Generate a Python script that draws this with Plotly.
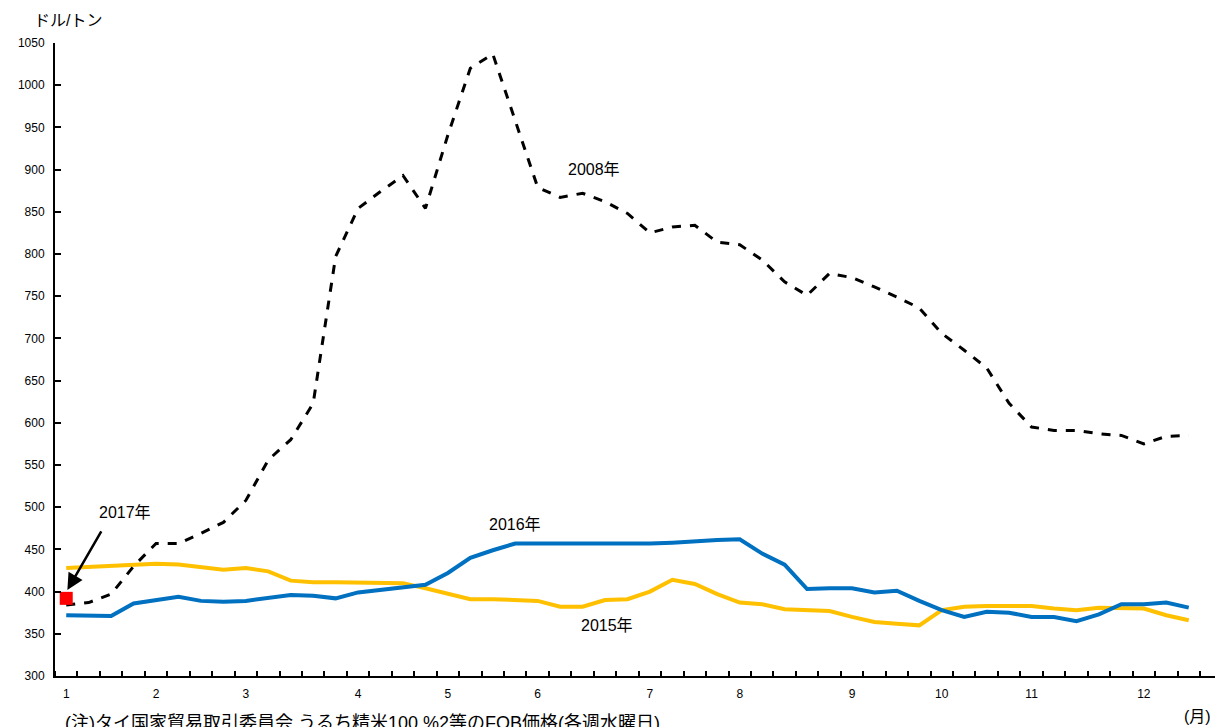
import plotly.graph_objects as go

weeks = list(range(51))
month_pos = [0, 4, 8, 13, 17, 21, 26, 30, 35, 39, 43, 48]
month_labels = ["1", "2", "3", "4", "5", "6", "7", "8", "9", "10", "11", "12"]

y2008 = [384, 387, 397, 430, 457, 457, 469, 482, 508, 556, 580, 623, 797, 854, 874, 893, 854,
         941, 1020, 1037, 958, 879, 867, 872, 862, 848, 825, 832, 834, 814, 811, 793, 767, 751,
         777, 772, 761, 749, 736, 706, 686, 665, 623, 595, 591, 591, 587, 585, 575, 584, 585]
y2016 = [372, 371, 371, 386, 390, 394, 389, 388, 389, 392, 396, 395, 392, 399, 402, 405, 408,
         422, 440, 449, 457, 457, 457, 456, 457, 457, 457, 458, 460, 461, 462, 445, 432, 403,
         404, 404, 399, 401, 389, 378, 370, 376, 375, 370, 370, 365, 373, 385, 385, 387, 381]
y2015 = [428, 429, 431, 432, 433, 432, 429, 426, 428, 424, 413, 411, 411, 411, 410, 410, 404,
         397, 391, 391, 390, 389, 382, 382, 390, 391, 400, 414, 409, 397, 387, 385, 379, 378,
         377, 370, 364, 362, 360, 378, 382, 383, 383, 383, 380, 378, 381, 380, 380, 372, 366]
x2017 = [0]
y2017 = [392]
y_ticks = list(range(300, 1051, 50))

FONT = "Liberation Sans, Arial, Noto Sans CJK JP, sans-serif"

fig = go.Figure()
fig.add_trace(go.Scatter(x=weeks, y=y2015, mode="lines", name="2015年",
                         line=dict(color="#FFC000", width=4)))
fig.add_trace(go.Scatter(x=weeks, y=y2016, mode="lines", name="2016年",
                         line=dict(color="#0070C0", width=4)))
fig.add_trace(go.Scatter(x=weeks, y=y2008, mode="lines", name="2008年",
                         line=dict(color="black", width=3, dash="dash")))
fig.add_trace(go.Scatter(x=x2017, y=y2017, mode="markers", name="2017年",
                         marker=dict(color="#FF0000", size=13, symbol="square")))

W, H = 1215, 727
PL, PT, PB = 55, 43, 676  # plot area edges in page pixels
L, R, T, B = PL, 0, PT, H - PB
pw, ph = W - L - R, H - T - B

def px(x):
    return (x - PL) / pw

def py(y):
    return (PB - y) / ph

TXT = dict(size=16, family=FONT, color="black")
ann = [
    dict(x=px(68), y=py(20), xref="paper", yref="paper", xanchor="center", yanchor="middle",
         text="ドル/トン", showarrow=False, font=TXT),
    dict(x=px(1197), y=py(716), xref="paper", yref="paper", xanchor="center", yanchor="middle",
         text="(月)", showarrow=False, font=TXT),
    dict(x=px(63), y=py(711), xref="paper", yref="paper", xanchor="left", yanchor="top",
         text="(注)タイ国家貿易取引委員会 うるち精米100 %2等のFOB価格(各週水曜日)",
         showarrow=False, font=dict(size=18, family=FONT, color="black")),
    dict(x=23.5, y=900, text="2008年", showarrow=False, font=TXT),
    dict(x=20.0, y=480, text="2016年", showarrow=False, font=TXT),
    dict(x=24.1, y=360, text="2015年", showarrow=False, font=TXT),
    dict(x=2.6, y=494, text="2017年", showarrow=False, font=TXT),
    dict(x=0.05, y=402, ax=1.6, ay=473, xref="x", yref="y", axref="x", ayref="y", text="",
         showarrow=True, arrowhead=2, arrowsize=1.3, arrowwidth=2.5, arrowcolor="black"),
]

fig.update_layout(
    width=W, height=H, autosize=False,
    margin=dict(l=L, r=R, t=T, b=B, pad=0),
    paper_bgcolor="white", plot_bgcolor="white",
    showlegend=False,
    font=dict(family=FONT, size=12, color="black"),
    annotations=ann,
)
fig.update_xaxes(
    range=[-0.5, 51.17], tickmode="array", tickvals=month_pos, ticktext=month_labels,
    ticks="", showgrid=False, zeroline=False, showline=True, linecolor="black", linewidth=2,
    tickfont=dict(size=12, family=FONT), ticklabelstandoff=6, automargin=False,
    minor=dict(tickmode="linear", tick0=-0.5, dtick=1, ticks="inside", ticklen=5,
               tickcolor="black", tickwidth=2, showgrid=False),
)
fig.update_yaxes(
    range=[300, 1050], tickmode="array", tickvals=y_ticks, ticks="inside", ticklen=6,
    tickwidth=2, tickcolor="black", showgrid=False, zeroline=False, showline=True,
    linecolor="black", linewidth=2, tickfont=dict(size=12, family=FONT), ticklabelstandoff=6,
    automargin=False,
)

fig.write_html(
    "out.html",
    config={"displayModeBar": False},
    post_script="document.body.style.margin='0';document.body.style.overflow='hidden';",
)
